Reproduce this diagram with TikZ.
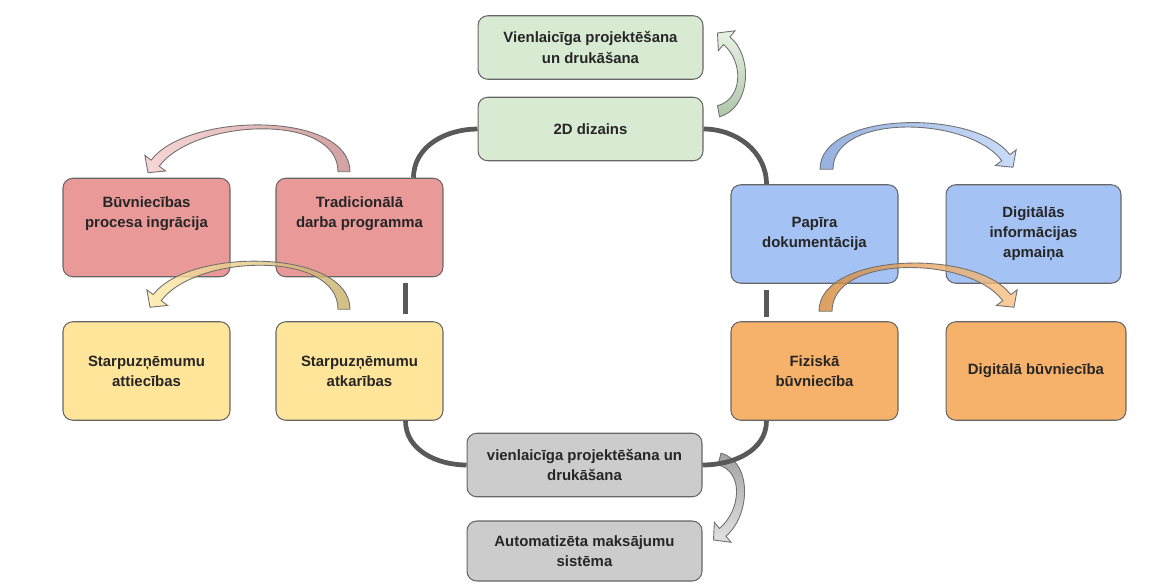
\documentclass[tikz,border=0pt]{standalone}
\usepackage{fontspec}
\setmainfont{Liberation Sans}
\usetikzlibrary{calc}

\definecolor{greenbox}{HTML}{D9EAD3}
\definecolor{redbox}{HTML}{EA9999}
\definecolor{yellowbox}{HTML}{FFE599}
\definecolor{bluebox}{HTML}{A4C2F4}
\definecolor{orangebox}{HTML}{F6B26B}
\definecolor{graybox}{HTML}{CCCCCC}
\definecolor{boxline}{HTML}{666666}
\definecolor{linkgray}{HTML}{595959}
\definecolor{textgray}{HTML}{262626}
\definecolor{arrowline}{HTML}{707070}
\definecolor{redL}{HTML}{F4CCCC}
\definecolor{redD}{HTML}{C88A8A}
\definecolor{yelL}{HTML}{FFE9A8}
\definecolor{yelD}{HTML}{C8AE66}
\definecolor{bluL}{HTML}{BCD3F7}
\definecolor{bluD}{HTML}{7D9FD8}
\definecolor{oraL}{HTML}{F9C184}
\definecolor{oraD}{HTML}{D4883A}
\definecolor{grnL}{HTML}{E2EFDD}
\definecolor{grnD}{HTML}{9CB894}
\definecolor{gryL}{HTML}{DADADA}
\definecolor{gryD}{HTML}{8C8C8C}

\tikzstyle{box} = [rectangle, rounded corners=5.5pt,
draw=boxline, line width=0.6pt,
align=center, inner sep=0pt,
text=textgray,
font=\fontsize{8.5}{11.4}\selectfont\bfseries]
\tikzstyle{bigbox} = [box, minimum width=3.34cm, minimum height=1.97cm]
\tikzstyle{widebox} = [box, minimum width=4.5cm, minimum height=1.27cm]
\tikzstyle{link} = [line width=2.7pt, draw=linkgray]
\tikzstyle{bigarrow} = [draw=arrowline, line width=0.5pt, fill opacity=0.8]

% curved block arrow: style, tail left, tail right, tail dir, tip, head dir, looseness left/right
\newcommand{\blockarc}[8]{%
	\pgfmathsetmacro{\bkin}{#6+180}
	\pgfmathsetmacro{\bkl}{#6+90}
	\pgfmathsetmacro{\bkr}{#6-90}
	\path[#1] (#2) to[out=#4, in=\bkin, looseness=#7] ($(#5)+(\bkin:12)+(\bkl:5)$)
		-- ($(#5)+(\bkin:12)+(\bkl:13)$) -- (#5) -- ($(#5)+(\bkin:12)+(\bkr:13)$)
		-- ($(#5)+(\bkin:12)+(\bkr:5)$) to[out=\bkin, in=#4, looseness=#8] (#3) -- cycle;
}

\begin{document}
\begin{tikzpicture}[x=0.02cm, y=0.02cm]
		
		\useasboundingbox (0,0) rectangle (1160,583);
		
		% Top column
		\node[widebox, fill=greenbox] (vienlaic) at (590.5,535.5) {Vienlaicīga projektēšana\\un drukāšana};
		\node[widebox, fill=greenbox] (dizains) at (590.5,454) {2D dizains};
		
		% Left side
		\node[bigbox, fill=redbox] (buvn) at (146.5,355.5) {Būvniecības\\procesa ingrācija\\[6.6pt]\mbox{}};
		\node[bigbox, fill=redbox] (trad) at (359.5,355.5) {Tradicionālā\\darba programma\\[6.6pt]\mbox{}};
		\node[bigbox, fill=yellowbox] (attiec) at (146.5,212) {Starpuzņēmumu\\attiecības};
		\node[bigbox, fill=yellowbox] (atkar) at (359.5,212) {Starpuzņēmumu\\atkarības};
		
		% Right side
		\node[bigbox, fill=bluebox] (papira) at (814.5,349) {Papīra\\dokumentācija};
		\node[bigbox, fill=bluebox, minimum width=3.5cm] (digit) at (1033.5,349) {Digitālās\\informācijas\\apmaiņa};
		\node[bigbox, fill=orangebox] (fizbuv) at (814.5,212) {Fiziskā\\būvniecība};
		\node[bigbox, fill=orangebox, minimum width=3.6cm] (digbuv) at (1036,212) {Digitālā būvniecība};
		
		% Bottom column
		\node[widebox, fill=graybox, minimum width=4.7cm] (vienl2) at (584.5,118) {vienlaicīga projektēšana un\\drukāšana};
		\node[widebox, fill=graybox, minimum width=4.7cm, minimum height=1.2cm] (autom) at (584.5,32) {Automatizēta maksājumu\\sistēma};
		
		% Curved block arrows
		\blockarc{bigarrow, left color=redL, right color=redD}{$(trad.north)+(-21.5,6)$}{$(trad.north)+(-9.5,6)$}{90}{$(buvn.north)+(1.5,5)$}{233}{0.85}{0.78}
		\blockarc{bigarrow, left color=yelL, right color=yelD}{$(atkar.north)+(-21.5,12)$}{$(atkar.north)+(-9.5,12)$}{90}{$(attiec.north)+(3.5,14)$}{233}{0.85}{0.78}
		\blockarc{bigarrow, left color=bluD, right color=bluL}{$(papira.north)+(5.5,15)$}{$(papira.north)+(18.5,15)$}{90}{$(digit.north)+(-20.5,17)$}{307}{0.78}{0.85}
		\blockarc{bigarrow, left color=oraD, right color=oraL}{$(fizbuv.north)+(4.5,10)$}{$(fizbuv.north)+(17.5,10)$}{90}{$(digbuv.north)+(-22,14)$}{307}{0.78}{0.85}
		\blockarc{bigarrow, bottom color=grnD, top color=grnL}{$(dizains.north east)+(14,-9)$}{$(dizains.north east)+(16,-20)$}{15}{$(vienlaic.east)+(14,14.5)$}{140}{1.1}{1.0}
		\blockarc{bigarrow, top color=gryD, bottom color=gryL}{$(vienl2.east)+(18.5,11.8)$}{$(vienl2.east)+(15.5,0.2)$}{-15}{$(autom.east)+(11,11)$}{220}{1.0}{1.1}
		
		% Connections
		\draw[link] (dizains.west) to[out=180, in=90] ([xshift=-0.6cm]trad.north east);
		\draw[link] (dizains.east) to[out=0, in=90] ([xshift=0.72cm]papira.north west);
		\draw[link, shorten <=0.12cm, shorten >=0.14cm] ([xshift=-0.76cm]trad.south east) -- ([xshift=-0.76cm]atkar.north east);
		\draw[link, shorten <=0.12cm, shorten >=0.08cm] ([xshift=0.72cm]papira.south west) -- ([xshift=0.72cm]fizbuv.north west);
		\draw[link] ([xshift=-0.76cm]atkar.south east) to[out=-90, in=180] (vienl2.west);
		\draw[link] ([xshift=0.72cm]fizbuv.south west) to[out=-90, in=0] (vienl2.east);
		
	\end{tikzpicture}
\end{document}
